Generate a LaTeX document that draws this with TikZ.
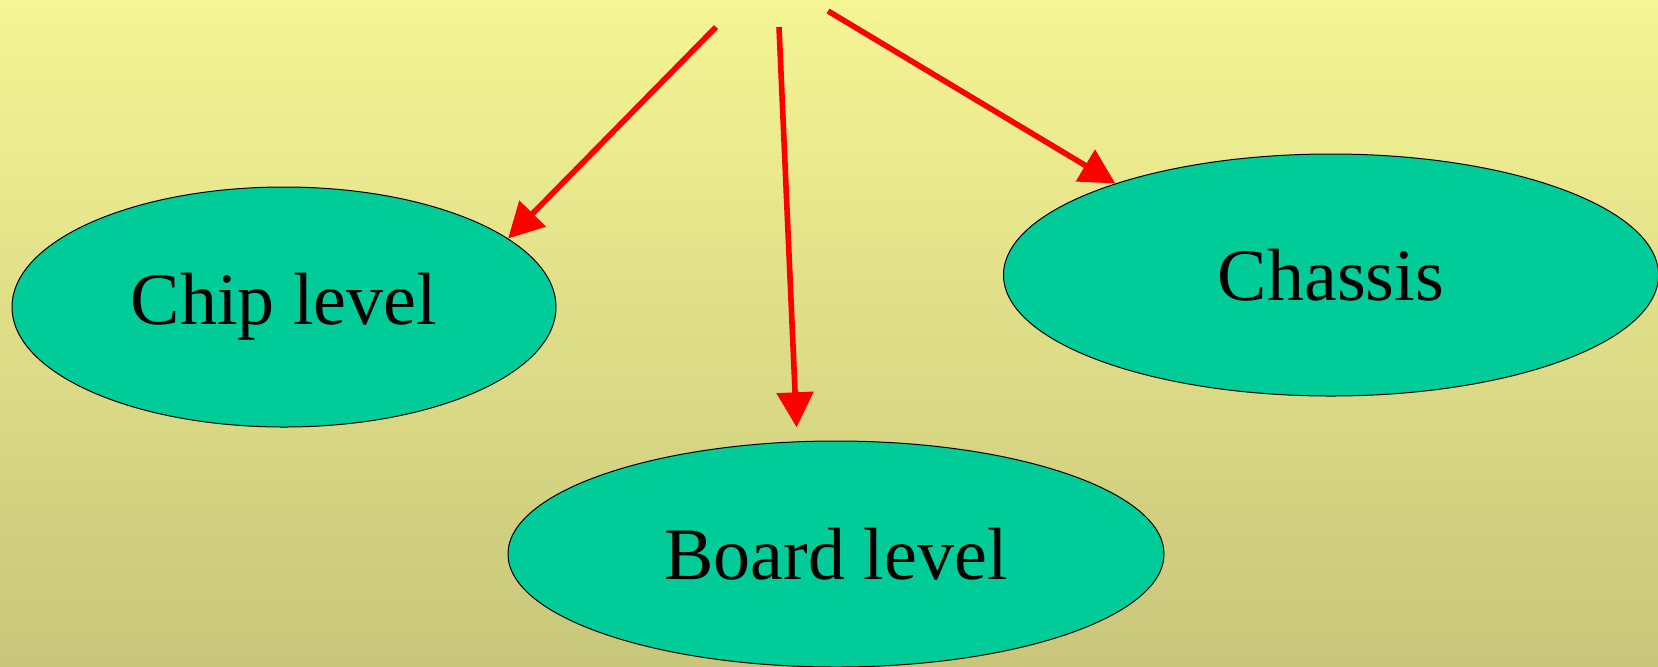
\documentclass[tikz,border=0pt]{standalone}
\usepackage{fontspec}
\setmainfont{Liberation Serif}
\usepackage{tikz}
\usetikzlibrary{arrows.meta,positioning,shapes.geometric}
\definecolor{BgTop}{HTML}{F5F595}
\definecolor{BgBottom}{HTML}{C8C67A}
\definecolor{Teal}{HTML}{00CC99}
\definecolor{ArrowRed}{HTML}{FF0000}

\begin{document}
\begin{tikzpicture}[
    x=0.5pt, y=-0.5pt,
    font=\fontsize{37}{40}\selectfont,
    level/.style={ellipse, draw=black, line width=0.5pt, fill=Teal, inner sep=0pt},
    arrow/.style={-{Triangle[length=17.5pt,width=18pt]}, line width=2.8pt, draw=ArrowRed}
]

% 背景渐变
\shade[top color=BgTop, bottom color=BgBottom] (0,0) rectangle (1658,666);
\useasboundingbox (0,0) rectangle (1658,666);

% 三个层级
\node[level, minimum width=272pt, minimum height=120pt] (chip) at (284,307) {Chip level};
\node[level, minimum width=328pt, minimum height=113pt] (board) at (836,554) {Board level};
\node[level, minimum width=327.5pt, minimum height=121pt] (chassis) at (1331,275) {Chassis};

% 箭头起点
\coordinate (srcchip) at (716,27);
\coordinate (srcboard) at (779,27);
\coordinate (srcchassis) at (828,11);

\draw[arrow] (srcchip) -- (chip.17);
\draw[arrow, shorten >=7pt] (srcboard) -- (board.109);
\draw[arrow] (srcchassis) -- (chassis.157);

\end{tikzpicture}
\end{document}
